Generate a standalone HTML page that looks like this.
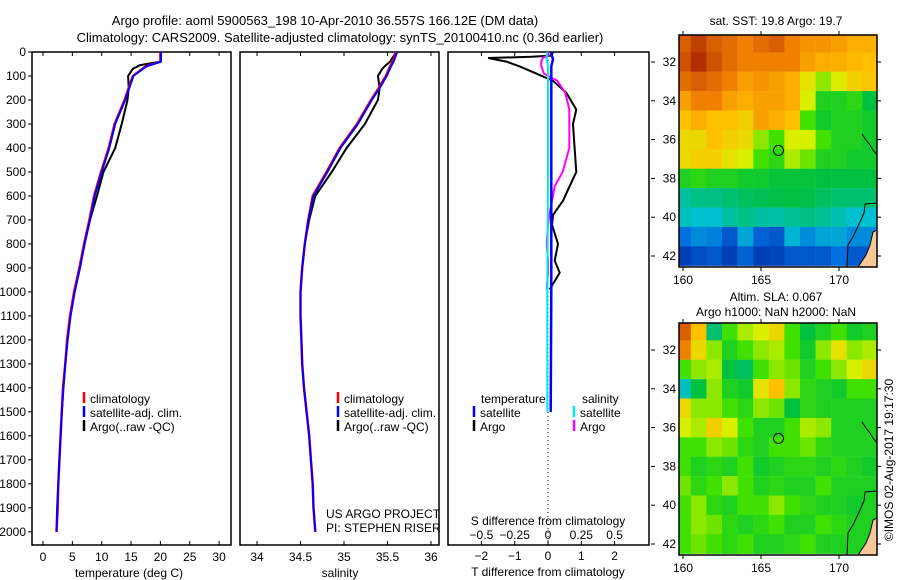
<!DOCTYPE html>
<html><head><meta charset="utf-8"><style>
body{margin:0;background:#fff;}
svg{display:block;font-family:"Liberation Sans",sans-serif;}
</style></head><body>
<svg id="fig" width="900" height="580" xmlns="http://www.w3.org/2000/svg">
<rect width="900" height="580" fill="#fff"/>
<text x="325" y="25" font-size="13" text-anchor="middle">Argo profile: aoml 5900563_198 10-Apr-2010 36.557S 166.12E (DM data)</text>
<text x="340" y="42" font-size="13" text-anchor="middle">Climatology: CARS2009. Satellite-adjusted climatology: synTS_20100410.nc (0.36d earlier)</text>
<g id="g"></g>
</svg>
<script>
// ---- data ----
const depthClim=[0,40,60,100,150,200,300,400,500,600,700,800,900,1000,1100,1200,1300,1400,1500,1600,1700,1800,1900,2000];
const tempClim=[20,20,17.5,15.3,14.6,13.9,12.2,11.2,9.9,8.7,7.9,7,6.2,5.3,4.6,4.1,3.8,3.4,3.2,3,2.8,2.6,2.5,2.3];
const tempSat=[20.1,20.1,17.6,15.4,14.7,14.0,12.3,11.3,10.0,8.8,8.0,7.1,6.3,5.4,4.7,4.2,3.8,3.5,3.2,3.0,2.8,2.6,2.4,2.3];
const depthArgo=[0,40,55,70,100,150,200,300,400,500,600,700,800,900,1000];
const tempArgo=[20,20,16.5,15.3,14.5,14.6,14.4,13.4,12.3,10.3,9.2,8.0,7.0,6.2,5.4];
const salClim=[35.6,35.56,35.53,35.48,35.4,35.31,35.15,34.95,34.8,34.64,34.59,34.55,34.52,34.5,34.5,34.51,34.52,34.54,34.57,34.6,34.62,34.64,34.65,34.67];
const salSat=[35.61,35.57,35.54,35.49,35.41,35.32,35.16,34.96,34.81,34.65,34.59,34.55,34.52,34.5,34.5,34.51,34.52,34.54,34.57,34.6,34.62,34.64,34.65,34.67];
const salArgo=[35.6,35.53,35.48,35.44,35.39,35.41,35.39,35.24,35.03,34.86,34.67,34.6,34.55,34.52,34.5];
const depthDiff=[0,15,20,25,40,60,90,120,170,240,300,400,500,560,620,680,720,800,870,920,990];
const tDiffArgo=[0.15,0.1,-0.5,-1.8,-1.25,-0.85,-0.35,0.15,0.55,0.85,0.75,0.8,0.85,0.65,0.45,0.15,0.12,0.3,0.2,0.35,0.05];
const sDiffArgo=[0,0,-0.02,-0.04,-0.05,-0.05,-0.03,0.07,0.13,0.16,0.16,0.16,0.11,0.05,0.03,0.01,0,-0.01,0,0,-0.01];
const depthSat=[0,30,60,200,500,1000,1500];
const tDiffSat=[0.08,0.15,0.1,0.1,0.1,0.1,0.08];
const sDiffSat=[-0.01,-0.01,0,0,0,-0.005,-0.005];
const mapLon=[160,161,162,163,164,165,166,167,168,169,170,171,172];
const mapLat=[-31,-32,-33,-34,-35,-36,-37,-38,-39,-40,-41,-42];
const sstGrid=[
[.9,.95,.9,.88,.85,.88,.9,.85,.82,.82,.8,.78,.78],
[.92,.97,.92,.88,.85,.85,.85,.85,.8,.78,.78,.76,.75],
[.88,.9,.88,.85,.8,.82,.8,.78,.68,.6,.66,.72,.74],
[.8,.85,.85,.8,.78,.8,.8,.78,.65,.5,.5,.52,.45],
[.75,.78,.75,.75,.72,.8,.78,.75,.55,.48,.5,.5,.48],
[.7,.7,.75,.72,.7,.6,.55,.65,.65,.55,.5,.5,.48],
[.7,.72,.72,.68,.65,.55,.52,.62,.58,.5,.5,.48,.48],
[.5,.52,.5,.5,.48,.48,.46,.46,.46,.45,.45,.45,.45],
[.35,.38,.38,.4,.42,.43,.44,.45,.44,.42,.4,.4,.4],
[.32,.3,.3,.35,.38,.35,.34,.36,.38,.36,.33,.3,.3],
[.15,.2,.18,.1,.25,.12,.1,.28,.2,.25,.25,.2,.2],
[.05,.08,.1,.05,.12,.05,.06,.1,.1,.1,.15,.1,.1]];
const slaGrid=[
[.9,.75,.4,.55,.62,.65,.7,.55,.45,.5,.55,.48,.5],
[.85,.7,.6,.5,.55,.6,.62,.55,.48,.6,.68,.6,.62],
[.55,.6,.62,.45,.42,.55,.6,.58,.5,.55,.6,.65,.7],
[.32,.45,.6,.5,.48,.68,.75,.6,.52,.5,.48,.55,.55],
[.7,.6,.6,.55,.52,.6,.58,.45,.52,.5,.5,.5,.5],
[.65,.62,.72,.65,.55,.5,.5,.55,.62,.6,.5,.5,.5],
[.55,.55,.6,.58,.52,.5,.55,.55,.58,.52,.5,.5,.5],
[.55,.5,.52,.5,.55,.48,.5,.52,.52,.5,.52,.5,.48],
[.58,.52,.55,.6,.55,.5,.52,.5,.5,.55,.5,.5,.5],
[.55,.6,.52,.5,.55,.55,.6,.55,.52,.5,.5,.48,.5],
[.55,.6,.58,.52,.5,.52,.55,.5,.5,.55,.52,.5,.5],
[.55,.58,.55,.52,.55,.5,.5,.52,.55,.5,.5,.5,.5]];
const argoLon=166.12, argoLat=-36.557;
const depthTicks=[0,100,200,300,400,500,600,700,800,900,1000,1100,1200,1300,1400,1500,1600,1700,1800,1900,2000];
const tTicks=[0,5,10,15,20,25,30];
const sTicks=[34,34.5,35,35.5,36];
const sTickLabels=["34","34.5","35","35.5","36"];
const dTTicks=[-2,-1,0,1,2];
const dSTicks=[-0.5,-0.25,0,0.25,0.5];
const dSTickLabels=["\u22120.5","\u22120.25","0","0.25","0.5"];
const latTicks=[-32,-34,-36,-38,-40,-42];
const lonTicks=[160,165,170];

// ---- helpers ----
const NS="http://www.w3.org/2000/svg";
const G=document.getElementById('g');
function el(tag,attrs,parent){const e=document.createElementNS(NS,tag);for(const k in attrs)e.setAttribute(k,attrs[k]);(parent||G).appendChild(e);return e;}
function txt(x,y,s,anchor,size,name){const t=el('text',{x:x,y:y,'font-size':size||12,'text-anchor':anchor||'start'});t.textContent=s;


return t;}
const yD=d=>52+d*0.2399;
const xT=v=>43+v*5.87;
const xS=v=>257+(v-34)*87;
const xDT=v=>548+v*33.3;
const xDS=v=>548+v*133.2;
function line(depths,vals,fx,color,w,name){let p='';for(let i=0;i<depths.length;i++){p+=(i?'L':'M')+fx(vals[i]).toFixed(1)+','+yD(depths[i]).toFixed(1);}
const e=el('path',{d:p,fill:'none',stroke:color,'stroke-width':w||2});

}

// ---- profile panels ----
const panels=[[32,231],[240,439],[448,649]];
panels.forEach((p,i)=>{const r=el('rect',{x:p[0],y:52,width:p[1]-p[0],height:493,fill:'none',stroke:'#000','stroke-width':1.5});

});
depthTicks.forEach(d=>{el('line',{x1:28,x2:32,y1:yD(d),y2:yD(d),stroke:'#000'});txt(26,yD(d)+4,String(d),'end',12,'depth-tick-label');});
tTicks.forEach(v=>{el('line',{x1:xT(v),x2:xT(v),y1:545,y2:541,stroke:'#000'});el('line',{x1:xT(v),x2:xT(v),y1:52,y2:56,stroke:'#000'});txt(xT(v),561,String(v),'middle',12,'temperature-tick-label');});
txt(129,577,'temperature (deg C)','middle',12,'x-axis-title-temperature');
sTicks.forEach((v,i)=>{el('line',{x1:xS(v),x2:xS(v),y1:545,y2:541,stroke:'#000'});el('line',{x1:xS(v),x2:xS(v),y1:52,y2:56,stroke:'#000'});txt(xS(v),561,sTickLabels[i],'middle',12,'salinity-tick-label');});
txt(340,577,'salinity','middle',12,'x-axis-title-salinity');
dTTicks.forEach(v=>{el('line',{x1:xDT(v),x2:xDT(v),y1:545,y2:541,stroke:'#000'});el('line',{x1:xDT(v),x2:xDT(v),y1:52,y2:56,stroke:'#000'});txt(xDT(v),560,String(v).replace('-','\u2212'),'middle',12,'t-diff-tick-label');});
dSTicks.forEach((v,i)=>{txt(xDS(v),539,dSTickLabels[i],'middle',12,'s-diff-tick-label');});
txt(548,525,'S difference from climatology','middle',12,'s-diff-axis-title');
txt(548,576,'T difference from climatology','middle',12,'t-diff-axis-title');
el('line',{x1:548,x2:548,y1:52,y2:545,stroke:'#000','stroke-dasharray':'1,3'});

line(depthArgo,tempArgo,xT,'#000',2,'temp-argo-line');
line(depthClim,tempClim,xT,'#ff0000',2.5,'temp-climatology-line');
line(depthClim,tempSat,xT,'#0000ff',2,'temp-satellite-line');
line(depthArgo,salArgo,xS,'#000',2,'sal-argo-line');
line(depthClim,salClim,xS,'#ff0000',2.5,'sal-climatology-line');
line(depthClim,salSat,xS,'#0000ff',2,'sal-satellite-line');
line(depthDiff,tDiffArgo,xDT,'#000',2,'tdiff-argo-line');
line(depthDiff,sDiffArgo,xDS,'#ff00ff',2,'sdiff-argo-line');
line(depthSat,tDiffSat,xDT,'#0000ff',2.5,'tdiff-satellite-line');
line(depthSat,sDiffSat,xDS,'#00e8f0',2,'sdiff-satellite-line');

// legends
function leg(x,y,color,label,name){el('line',{x1:x,x2:x,y1:y-11,y2:y,stroke:color,'stroke-width':2.5});txt(x+6,y,label,'start',12,name);}
[[84,0],[338,0]].forEach((o,k)=>{leg(o[0],403,'#ff0000','climatology','legend-climatology');leg(o[0],417,'#0000ff','satellite-adj. clim.','legend-satellite');leg(o[0],431,'#000','Argo(..raw -QC)','legend-argo');});
txt(481,403,'temperature','start',12,'legend-temperature-header');
txt(582,403,'salinity','start',12,'legend-salinity-header');
leg(474,417,'#0000ff','satellite','legend-t-satellite');
leg(474,431,'#000','Argo','legend-t-argo');
leg(574,417,'#00e8f0','satellite','legend-s-satellite');
leg(574,431,'#ff00ff','Argo','legend-s-argo');
txt(326,518,'US ARGO PROJECT','start',12,'project-credit');
txt(326,532,'PI: STEPHEN RISER','start',12,'pi-credit');

// ---- maps ----
const stops=[[0,[0,40,160]],[.15,[0,112,224]],[.3,[0,192,208]],[.45,[0,192,64]],[.55,[64,224,0]],[.65,[216,240,0]],[.75,[255,192,0]],[.85,[240,128,0]],[.95,[192,64,0]],[1,[160,16,0]]];
function cmap(v){for(let i=1;i<stops.length;i++){if(v<=stops[i][0]){const a=stops[i-1],b=stops[i],t=(v-a[0])/(b[0]-a[0]);return 'rgb('+a[1].map((c,j)=>Math.round(c+(b[1][j]-c)*t)).join(',')+')';}}return 'rgb(160,16,0)';}
function drawMap(top,grid,name){
  const L=679,R=877,T=top,B=top+232;
  const xL=lon=>683+(lon-160)*15.6, yL=lat=>top+27+(-32-lat)*19.4;
  const cid='clip'+top;
  const cp=el('clipPath',{id:cid});el('rect',{x:L,y:T,width:R-L,height:B-T},cp);
  const g=el('g',{'clip-path':'url(#'+cid+')'});
  
  
  for(let r=0;r<mapLat.length;r++)for(let c=0;c<mapLon.length;c++){
    const cell=el('rect',{x:xL(mapLon[c]-0.5),y:yL(mapLat[r]+0.5),width:15.8,height:19.6,fill:cmap(grid[r][c])},g);
    
    
  }
  const o=top-35;
  el('polygon',{points:`877,${230+o} 873,${232+o} 870,${245+o} 866,${255+o} 858,${267+o} 877,${267+o}`,fill:'#f8c898',stroke:'#000','stroke-width':1},g);
  el('polyline',{points:`877,${203+o} 865,${204+o} 864,${213+o} 860,${222+o} 853,${237+o} 848,${245+o} 847,${267+o}`,fill:'none',stroke:'#000','stroke-width':1},g);
  el('polyline',{points:`862,${134+o} 866,${140+o} 870,${145+o} 873,${150+o} 877,${155+o}`,fill:'none',stroke:'#000','stroke-width':1},g);
  const frame=el('rect',{x:L,y:T,width:R-L,height:B-T,fill:'none',stroke:'#000','stroke-width':1.5});
  
  
  const mk=el('circle',{cx:xL(argoLon),cy:yL(argoLat),r:5,fill:'none',stroke:'#000','stroke-width':1});
  
  
  latTicks.forEach(lat=>{el('line',{x1:651,x2:655,y1:yL(lat),y2:yL(lat),stroke:'#000'});el('line',{x1:R,x2:R+4,y1:yL(lat),y2:yL(lat),stroke:'#000'});txt(676,yL(lat)+4,String(-lat),'end',12,'lat-tick-label');});
  lonTicks.forEach(lon=>{el('line',{x1:xL(lon),x2:xL(lon),y1:B,y2:B+4,stroke:'#000'});el('line',{x1:xL(lon),x2:xL(lon),y1:T-4,y2:T,stroke:'#000'});txt(xL(lon),B+17,String(lon),'middle',12,'lon-tick-label');});
}
drawMap(35,sstGrid,'sst-map');
drawMap(323,slaGrid,'sla-map');
txt(776,25,'sat. SST: 19.8 Argo: 19.7','middle',12,'sst-map-title');
txt(776,301,'Altim. SLA: 0.067','middle',12,'sla-map-title');
txt(776,316,'Argo h1000: NaN h2000: NaN','middle',12,'sla-map-subtitle');
const cr=txt(0,0,'\u00a9IMOS 02-Aug-2017 19:17:30','middle',12,'copyright-timestamp');
cr.setAttribute('transform','translate(893,460) rotate(-90)');
</script>
</body></html>
